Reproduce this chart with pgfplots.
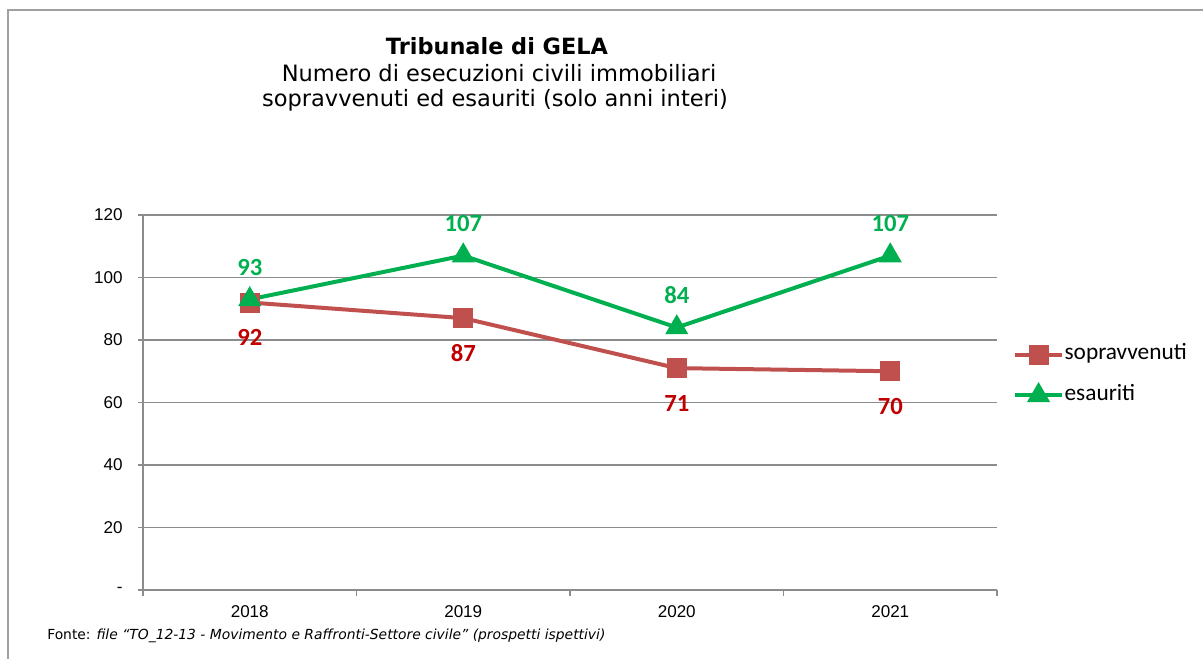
\documentclass[border=0pt]{standalone}
\usepackage{fontspec}
\setmainfont{DejaVu Sans}
\newfontfamily\arialfont{Liberation Sans}
\newfontfamily\calfont{Carlito}
\usepackage{pgfplots}
\pgfplotsset{compat=1.18}

\definecolor{serred}{HTML}{C0504D}
\definecolor{sergreen}{HTML}{00B050}
\definecolor{labred}{HTML}{C00000}
\definecolor{axgray}{HTML}{8C8C8C}
\definecolor{framegray}{HTML}{A0A0A0}

\begin{document}
\begin{tikzpicture}
\useasboundingbox (0,0) rectangle (902.25pt,-494.25pt);
% outer chart frame (cut off on the right and bottom)
\draw[framegray, line width=1.2pt] (6pt,-494.25pt) -- (6pt,-7.5pt) -- (902.25pt,-7.5pt);

% titles
\node[font=\bfseries\fontsize{16.8}{20}\selectfont] at (372.75pt,-34.5pt) {Tribunale di GELA};
\node[font=\fontsize{16.9}{20}\selectfont] at (374.25pt,-55pt) {Numero di esecuzioni civili immobiliari};
\node[font=\fontsize{16.9}{20}\selectfont] at (371.25pt,-75pt) {sopravvenuti ed esauriti (solo anni interi)};

% source note
\node[anchor=west, inner sep=0pt, font=\fontsize{10.4}{12}\selectfont] at (35.25pt,-477pt)
  {Fonte: \itshape file “TO\_12-13 - Movimento e Raffronti-Settore civile” (prospetti ispettivi)};

\begin{axis}[
    at={(107.25pt,-442.5pt)}, anchor=south west,
    scale only axis, width=640.5pt, height=281.25pt,
    xmin=-0.5, xmax=3.5, ymin=0, ymax=120,
    axis x line*=bottom, axis y line*=left,
    axis line style={axgray, line width=0.9pt},
    xtick={0,1,2,3}, xticklabels={2018,2019,2020,2021},
    minor xtick={-0.5,0.5,1.5,2.5,3.5},
    major x tick style={draw=none},
    minor x tick style={axgray, line width=0.9pt},
    minor tick length=4.5pt,
    ytick={0,20,40,60,80,100,120},
    yticklabels={-,20,40,60,80,100,120},
    y tick style={axgray, line width=0.9pt},
    major tick length=3.75pt,
    tick align=outside,
    ymajorgrids, grid style={axgray, line width=0.9pt},
    ticklabel style={font=\arialfont\fontsize{12.8}{15}\selectfont, text=black},
    yticklabel style={xshift=-8pt},
    xticklabel style={yshift=-4.5pt},
    clip=false,
    legend style={at={(1.0187,0.5733)}, anchor=west, draw=none, fill=none,
        inner sep=0pt, row sep=17pt,
        font=\calfont\fontsize{17.5}{20}\selectfont,
        nodes={inner xsep=0.5pt, inner ysep=0pt, text height=10pt, text depth=3pt}},
    legend cell align=left,
    legend image code/.code={\draw[mark repeat=2,mark phase=2,#1] plot coordinates {(0pt,0pt)(17.5pt,0pt)(35pt,0pt)};},
]
\addplot[serred, line width=3pt, mark=square*, mark size=6pt,
    point meta=explicit symbolic, nodes near coords,
    every node near coord/.style={anchor=center, yshift=-26.25pt, text=labred,
        font=\calfont\bfseries\fontsize{18.5}{20}\selectfont}]
  coordinates {(0,92)[92] (1,87)[87] (2,71)[71] (3,70)[70]};
\addlegendentry{sopravvenuti}
\addplot[sergreen, line width=3pt, mark=triangle*, mark size=7pt,
    point meta=explicit symbolic, nodes near coords,
    every node near coord/.style={anchor=center, yshift=24pt, text=sergreen,
        font=\calfont\bfseries\fontsize{18.5}{20}\selectfont}]
  coordinates {(0,93)[93] (1,107)[107] (2,84)[84] (3,107)[107]};
\addlegendentry{esauriti}
\end{axis}
\end{tikzpicture}
\end{document}
